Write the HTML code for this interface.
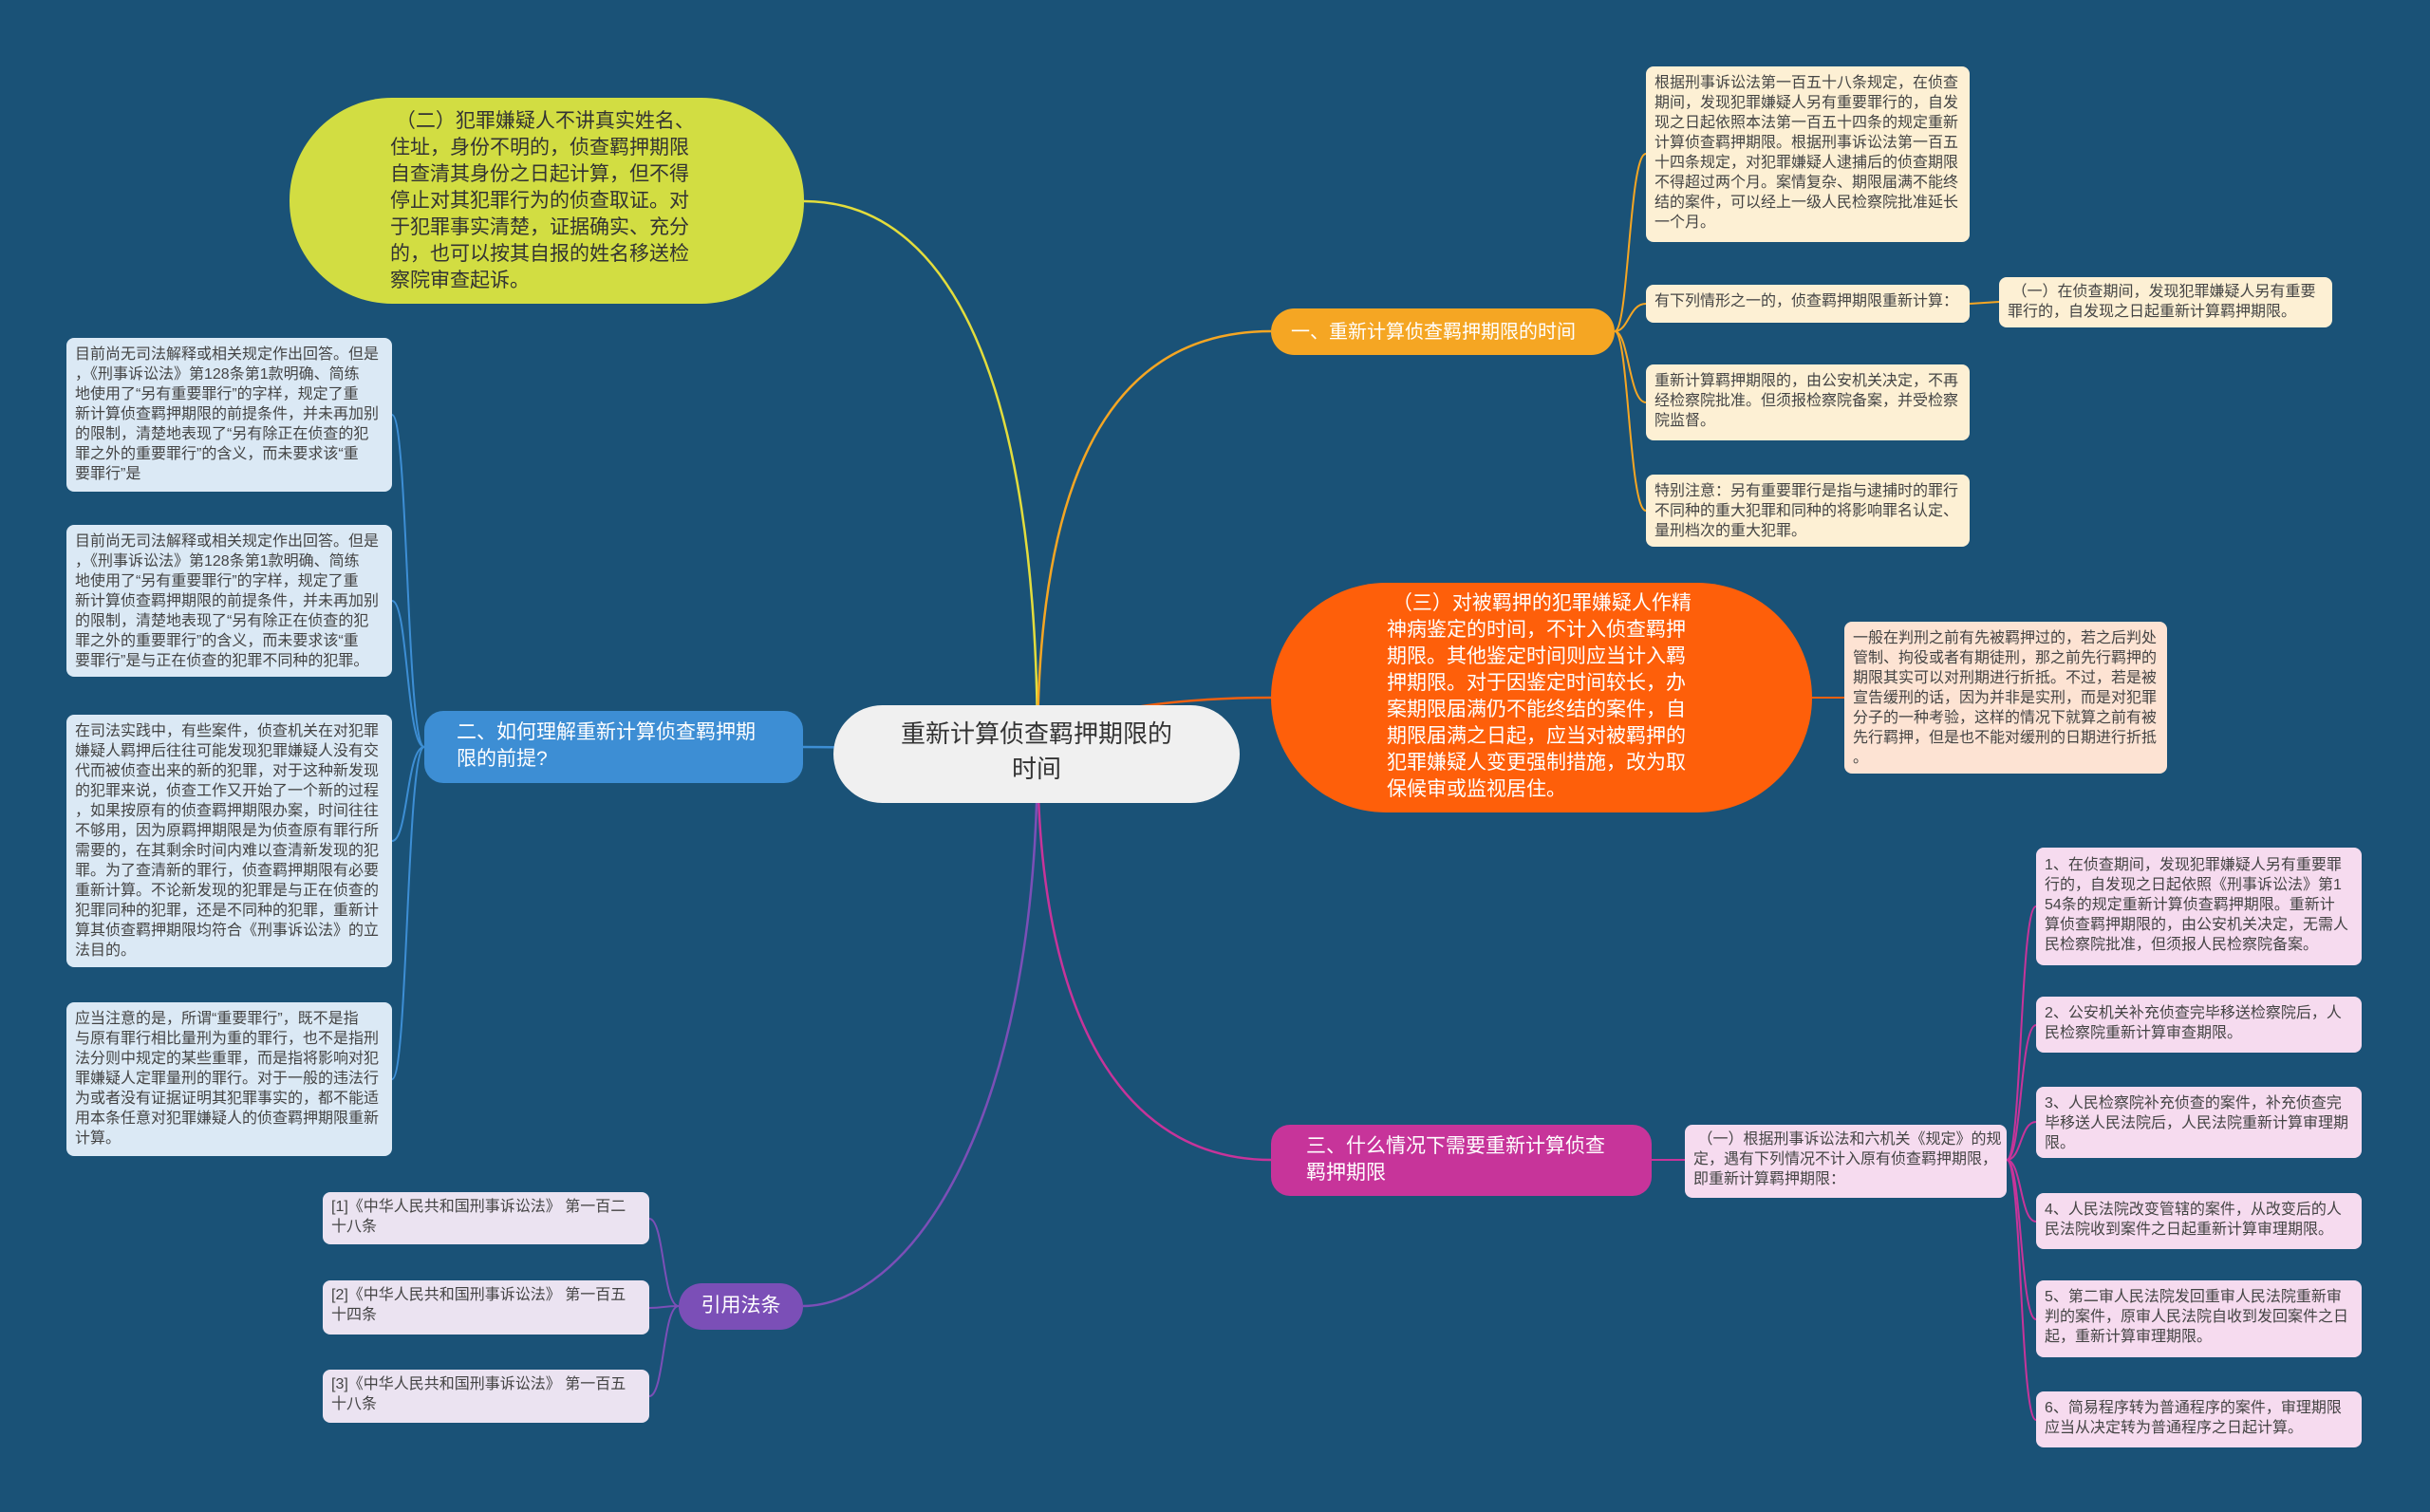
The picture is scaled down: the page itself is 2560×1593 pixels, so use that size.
<!DOCTYPE html>
<html><head><meta charset="utf-8"><style>
*{margin:0;padding:0;box-sizing:border-box}
body{width:2560px;height:1593px;background:#1a5277;position:relative;overflow:hidden;font-family:"Liberation Sans","Noto Sans CJK SC",sans-serif}
.a{position:absolute}
.b{position:absolute;border-radius:8px;font-size:16px;line-height:21px;color:#444;padding:7px 9px;white-space:nowrap}
.cr{background:#fdf0d4}
.bl{background:#dbe9f5}
.pk{background:#f6dbef}
.lv{background:#ebe3f1}
.pe{background:#fde3d3}
.lab{position:absolute;color:#fff;font-size:21px;line-height:28px;white-space:nowrap}
</style></head><body>
<svg class="a" style="left:0;top:0" width="2560" height="1593">
<g fill="none" stroke-width="2.5">
<path d="M1093,790 C1093,400 1000,212 847,212" stroke="#e3dd3c"/>
<path d="M1093,790 C1093,450 1200,349 1339,349" stroke="#f5a623"/>
<path d="M1093,790 C1093,760 1200,735 1339,735" stroke="#f06010"/>
<path d="M1093,790 C1000,790 900,787 846,787" stroke="#3d8ed4"/>
<path d="M1093,790 C1093,1100 1200,1222 1339,1222" stroke="#c7349a"/>
<path d="M1093,790 C1093,1200 950,1376 846,1376" stroke="#7b4fb7"/>
</g>
<g fill="none" stroke="#f5a623" stroke-width="2">
<path d="M1701,349 C1716,349 1716,162 1734,162"/>
<path d="M1701,349 C1716,349 1716,320 1734,320"/>
<path d="M1701,349 C1716,349 1716,424 1734,424"/>
<path d="M1701,349 C1716,349 1716,538 1734,538"/>
<path d="M2075,320 L2106,318"/>
</g>
<path d="M1909,735 L1943,735" stroke="#f06010" stroke-width="2"/>
<g fill="none" stroke="#3d8ed4" stroke-width="2">
<path d="M447,787 C428,787 430,437 413,437"/>
<path d="M447,787 C428,787 430,633 413,633"/>
<path d="M447,787 C428,787 430,886 413,886"/>
<path d="M447,787 C428,787 430,1137 413,1137"/>
</g>
<path d="M1740,1222 L1775,1222" stroke="#c7349a" stroke-width="2"/>
<g fill="none" stroke="#c7349a" stroke-width="2">
<path d="M2114,1222 C2130,1222 2128,955 2145,955"/>
<path d="M2114,1222 C2130,1222 2128,1080 2145,1080"/>
<path d="M2114,1222 C2130,1222 2128,1182 2145,1182"/>
<path d="M2114,1222 C2130,1222 2128,1287 2145,1287"/>
<path d="M2114,1222 C2130,1222 2128,1390 2145,1390"/>
<path d="M2114,1222 C2130,1222 2128,1496 2145,1496"/>
</g>
<g fill="none" stroke="#7b4fb7" stroke-width="2">
<path d="M715,1376 C698,1376 700,1284 684,1284"/>
<path d="M715,1376 C698,1376 700,1378 684,1378"/>
<path d="M715,1376 C698,1376 700,1471 684,1471"/>
</g>
</svg>

<div class="a" style="left:878px;top:743px;width:428px;height:103px;background:#f0f0f0;border-radius:52px"></div>
<div class="a" style="left:878px;top:755px;width:428px;text-align:center;font-size:26px;line-height:37px;color:#333">重新计算侦查羁押期限的<br>时间</div>

<div class="a" style="left:305px;top:103px;width:542px;height:217px;background:#d2dd42;border-radius:108px"></div>
<div class="a" style="left:411px;top:114px;font-size:21px;line-height:28px;color:#333;white-space:nowrap">&nbsp;（二）犯罪嫌疑人不讲真实姓名、<br>住址，身份不明的，侦查羁押期限<br>自查清其身份之日起计算，但不得<br>停止对其犯罪行为的侦查取证。对<br>于犯罪事实清楚，证据确实、充分<br>的，也可以按其自报的姓名移送检<br>察院审查起诉。</div>

<div class="a" style="left:1339px;top:325px;width:362px;height:49px;background:#f5a623;border-radius:25px"></div>
<div class="lab" style="left:1360px;top:336px;font-size:20px">一、重新计算侦查羁押期限的时间</div>

<div class="b cr" style="left:1734px;top:70px;width:341px;height:185px">根据刑事诉讼法第一百五十八条规定，在侦查<br>期间，发现犯罪嫌疑人另有重要罪行的，自发<br>现之日起依照本法第一百五十四条的规定重新<br>计算侦查羁押期限。根据刑事诉讼法第一百五<br>十四条规定，对犯罪嫌疑人逮捕后的侦查期限<br>不得超过两个月。案情复杂、期限届满不能终<br>结的案件，可以经上一级人民检察院批准延长<br>一个月。</div>
<div class="b cr" style="left:1734px;top:300px;width:341px;height:40px">有下列情形之一的，侦查羁押期限重新计算：</div>
<div class="b cr" style="left:1734px;top:384px;width:341px;height:80px">重新计算羁押期限的，由公安机关决定，不再<br>经检察院批准。但须报检察院备案，并受检察<br>院监督。</div>
<div class="b cr" style="left:1734px;top:500px;width:341px;height:76px">特别注意：另有重要罪行是指与逮捕时的罪行<br>不同种的重大犯罪和同种的将影响罪名认定、<br>量刑档次的重大犯罪。</div>
<div class="b cr" style="left:2106px;top:292px;width:351px;height:53px;padding-top:5px">&nbsp;（一）在侦查期间，发现犯罪嫌疑人另有重要<br>罪行的，自发现之日起重新计算羁押期限。</div>

<div class="a" style="left:1339px;top:614px;width:570px;height:242px;background:#fe5f0a;border-radius:121px"></div>
<div class="a" style="left:1461px;top:622px;font-size:21px;line-height:28px;color:#fff;white-space:nowrap">&nbsp;（三）对被羁押的犯罪嫌疑人作精<br>神病鉴定的时间，不计入侦查羁押<br>期限。其他鉴定时间则应当计入羁<br>押期限。对于因鉴定时间较长，办<br>案期限届满仍不能终结的案件，自<br>期限届满之日起，应当对被羁押的<br>犯罪嫌疑人变更强制措施，改为取<br>保候审或监视居住。</div>
<div class="b pe" style="left:1943px;top:655px;width:340px;height:160px">一般在判刑之前有先被羁押过的，若之后判处<br>管制、拘役或者有期徒刑，那之前先行羁押的<br>期限其实可以对刑期进行折抵。不过，若是被<br>宣告缓刑的话，因为并非是实刑，而是对犯罪<br>分子的一种考验，这样的情况下就算之前有被<br>先行羁押，但是也不能对缓刑的日期进行折抵<br>。</div>

<div class="a" style="left:447px;top:749px;width:399px;height:76px;background:#3d8ed4;border-radius:20px"></div>
<div class="lab" style="left:481px;top:758px">二、如何理解重新计算侦查羁押期<br>限的前提?</div>

<div class="b bl" style="left:70px;top:356px;width:343px;height:162px">目前尚无司法解释或相关规定作出回答。但是<br>，《刑事诉讼法》第128条第1款明确、简练<br>地使用了“另有重要罪行”的字样，规定了重<br>新计算侦查羁押期限的前提条件，并未再加别<br>的限制，清楚地表现了“另有除正在侦查的犯<br>罪之外的重要罪行”的含义，而未要求该“重<br>要罪行”是</div>
<div class="b bl" style="left:70px;top:553px;width:343px;height:160px">目前尚无司法解释或相关规定作出回答。但是<br>，《刑事诉讼法》第128条第1款明确、简练<br>地使用了“另有重要罪行”的字样，规定了重<br>新计算侦查羁押期限的前提条件，并未再加别<br>的限制，清楚地表现了“另有除正在侦查的犯<br>罪之外的重要罪行”的含义，而未要求该“重<br>要罪行”是与正在侦查的犯罪不同种的犯罪。</div>
<div class="b bl" style="left:70px;top:753px;width:343px;height:266px">在司法实践中，有些案件，侦查机关在对犯罪<br>嫌疑人羁押后往往可能发现犯罪嫌疑人没有交<br>代而被侦查出来的新的犯罪，对于这种新发现<br>的犯罪来说，侦查工作又开始了一个新的过程<br>，如果按原有的侦查羁押期限办案，时间往往<br>不够用，因为原羁押期限是为侦查原有罪行所<br>需要的，在其剩余时间内难以查清新发现的犯<br>罪。为了查清新的罪行，侦查羁押期限有必要<br>重新计算。不论新发现的犯罪是与正在侦查的<br>犯罪同种的犯罪，还是不同种的犯罪，重新计<br>算其侦查羁押期限均符合《刑事诉讼法》的立<br>法目的。</div>
<div class="b bl" style="left:70px;top:1056px;width:343px;height:162px">应当注意的是，所谓“重要罪行”，既不是指<br>与原有罪行相比量刑为重的罪行，也不是指刑<br>法分则中规定的某些重罪，而是指将影响对犯<br>罪嫌疑人定罪量刑的罪行。对于一般的违法行<br>为或者没有证据证明其犯罪事实的，都不能适<br>用本条任意对犯罪嫌疑人的侦查羁押期限重新<br>计算。</div>

<div class="a" style="left:1339px;top:1185px;width:401px;height:75px;background:#c7349a;border-radius:20px"></div>
<div class="lab" style="left:1376px;top:1194px">三、什么情况下需要重新计算侦查<br>羁押期限</div>
<div class="b pk" style="left:1775px;top:1185px;width:339px;height:77px;padding-top:5px">&nbsp;（一）根据刑事诉讼法和六机关《规定》的规<br>定，遇有下列情况不计入原有侦查羁押期限，<br>即重新计算羁押期限：</div>

<div class="b pk" style="left:2145px;top:893px;width:343px;height:124px;padding-top:8px">1、在侦查期间，发现犯罪嫌疑人另有重要罪<br>行的，自发现之日起依照《刑事诉讼法》第1<br>54条的规定重新计算侦查羁押期限。重新计<br>算侦查羁押期限的，由公安机关决定，无需人<br>民检察院批准，但须报人民检察院备案。</div>
<div class="b pk" style="left:2145px;top:1050px;width:343px;height:59px">2、公安机关补充侦查完毕移送检察院后，人<br>民检察院重新计算审查期限。</div>
<div class="b pk" style="left:2145px;top:1145px;width:343px;height:75px">3、人民检察院补充侦查的案件，补充侦查完<br>毕移送人民法院后，人民法院重新计算审理期<br>限。</div>
<div class="b pk" style="left:2145px;top:1257px;width:343px;height:59px">4、人民法院改变管辖的案件，从改变后的人<br>民法院收到案件之日起重新计算审理期限。</div>
<div class="b pk" style="left:2145px;top:1349px;width:343px;height:81px">5、第二审人民法院发回重审人民法院重新审<br>判的案件，原审人民法院自收到发回案件之日<br>起，重新计算审理期限。</div>
<div class="b pk" style="left:2145px;top:1466px;width:343px;height:59px">6、简易程序转为普通程序的案件，审理期限<br>应当从决定转为普通程序之日起计算。</div>

<div class="a" style="left:715px;top:1352px;width:131px;height:49px;background:#7b4fb7;border-radius:25px"></div>
<div class="lab" style="left:715px;top:1362px;width:131px;text-align:center">引用法条</div>
<div class="b lv" style="left:340px;top:1256px;width:344px;height:55px;padding-top:5px">[1]《中华人民共和国刑事诉讼法》 第一百二<br>十八条</div>
<div class="b lv" style="left:340px;top:1349px;width:344px;height:57px;padding-top:5px">[2]《中华人民共和国刑事诉讼法》 第一百五<br>十四条</div>
<div class="b lv" style="left:340px;top:1443px;width:344px;height:56px;padding-top:5px">[3]《中华人民共和国刑事诉讼法》 第一百五<br>十八条</div>
</body></html>
